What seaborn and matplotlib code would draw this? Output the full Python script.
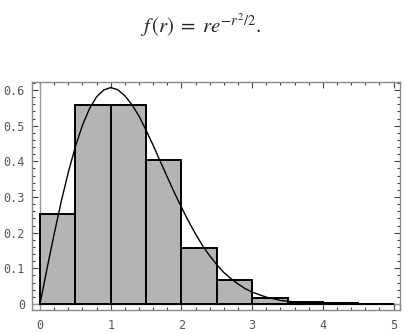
import matplotlib
matplotlib.use("Agg")
import matplotlib.pyplot as plt
import seaborn as sns
import pandas as pd
from matplotlib.ticker import MultipleLocator, FixedLocator

# Histogram bins (edges) and bar heights
bin_edges = [0.0, 0.5, 1.0, 1.5, 2.0, 2.5, 3.0, 3.5, 4.0, 4.5, 5.0]
bin_heights = [0.252, 0.557, 0.557, 0.404, 0.156, 0.066, 0.016, 0.005, 0.002, 0.001]

# Density curve samples f(r) = r e^{-r^2/2}
curve_r = [0.0, 0.1, 0.2, 0.3, 0.4, 0.5, 0.6, 0.7, 0.8, 0.9, 1.0, 1.1, 1.2, 1.3,
           1.4, 1.5, 1.6, 1.7, 1.8, 1.9, 2.0, 2.1, 2.2, 2.3, 2.4, 2.5, 2.6, 2.7,
           2.8, 2.9, 3.0, 3.2, 3.4, 3.6, 3.8, 4.0, 4.5, 5.0]
curve_f = [0.0, 0.0995, 0.196, 0.287, 0.369, 0.441, 0.501, 0.548, 0.581, 0.600,
           0.607, 0.601, 0.584, 0.559, 0.527, 0.487, 0.445, 0.400, 0.356, 0.312,
           0.271, 0.232, 0.196, 0.163, 0.135, 0.110, 0.088, 0.071, 0.056, 0.043,
           0.033, 0.019, 0.010, 0.0055, 0.0028, 0.0013, 0.0002, 0.0]

x_ticks = [0, 1, 2, 3, 4, 5]
x_tick_labels = ["0", "1", "2", "3", "4", "5"]
y_ticks = [0, 0.1, 0.2, 0.3, 0.4, 0.5, 0.6]
y_tick_labels = ["0", "0.1", "0.2", "0.3", "0.4", "0.5", "0.6"]

title_text = r"$f\,(r)\;=\;re^{-r^2/2}.$"

sns.set_style("white")
plt.rcParams["mathtext.fontset"] = "stix"

fig = plt.figure(figsize=(4.06, 3.33), dpi=100)
ax = fig.add_axes([32 / 406, 1 - 310 / 333, (400 - 32) / 406, (310 - 81.5) / 333])

centers = [(bin_edges[i] + bin_edges[i + 1]) / 2 for i in range(len(bin_heights))]
df = pd.DataFrame({"r": centers, "h": bin_heights})
sns.histplot(data=df, x="r", weights="h", bins=bin_edges, stat="count",
             color="#b4b4b4", edgecolor="black", linewidth=1.4, alpha=1.0,
             ax=ax, zorder=2)

cdf = pd.DataFrame({"r": curve_r, "f": curve_f})
sns.lineplot(data=cdf, x="r", y="f", color="black", linewidth=1.0, ax=ax, zorder=4)

# Mathematica-style axes lines at x=0 and y=0
ax.axvline(0, color="#999999", linewidth=1.0, zorder=1)
ax.axhline(0, color="#999999", linewidth=1.0, zorder=1)

ax.set_xlim(-0.113, 5.09)
ax.set_ylim(-0.017, 0.624)
ax.set_xlabel("")
ax.set_ylabel("")

ax.xaxis.set_major_locator(FixedLocator(x_ticks))
ax.set_xticklabels(x_tick_labels)
ax.yaxis.set_major_locator(FixedLocator(y_ticks))
ax.set_yticklabels(y_tick_labels)
ax.xaxis.set_minor_locator(MultipleLocator(0.2))
ax.yaxis.set_minor_locator(MultipleLocator(0.02))

for s in ax.spines.values():
    s.set_color("#888888")
    s.set_linewidth(1.0)

ax.tick_params(which="both", direction="in", top=True, right=True, bottom=True, left=True,
               color="#444444", width=0.8)
ax.tick_params(which="major", length=4.5)
ax.tick_params(which="minor", length=2.5)
ax.tick_params(axis="x", which="major", pad=6.5)
ax.tick_params(axis="y", which="major", pad=5)
for lab in ax.get_xticklabels() + ax.get_yticklabels():
    lab.set_fontfamily("DejaVu Sans Mono")
    lab.set_fontsize(8.5)
    lab.set_color("#555555")

fig.text(0.495, 1 - 25 / 333, title_text, ha="center", va="center", fontsize=15)

fig.savefig("out.png", dpi=100)
